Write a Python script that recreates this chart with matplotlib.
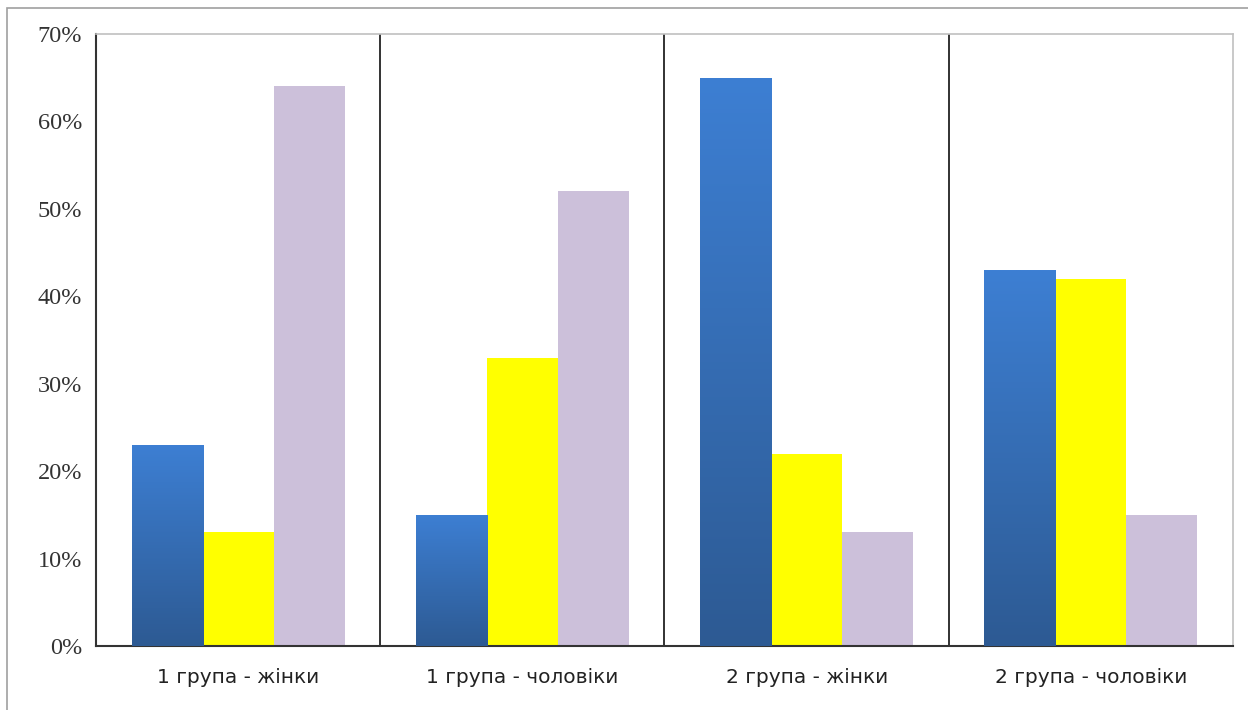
import numpy as np
import matplotlib
matplotlib.use("Agg")
import matplotlib.pyplot as plt
from matplotlib.colors import LinearSegmentedColormap
from matplotlib.patches import Rectangle

# дані (у відсотках)
categories = ["1 група - жінки", "1 група - чоловіки", "2 група - жінки", "2 група - чоловіки"]
series_blue = [23, 15, 65, 43]
series_yellow = [13, 33, 22, 42]
series_purple = [64, 52, 13, 15]
y_ticks = [0, 10, 20, 30, 40, 50, 60, 70]

fig = plt.figure(figsize=(12.48, 7.10), dpi=100)
ax = fig.add_axes([0.0769, 0.0901, 0.9111, 0.8620])

# зовнішня рамка діаграми (обрізана справа і знизу)
fig.patches.append(Rectangle((7 / 1248, -0.05), 1.1, 0.05 + (710 - 8) / 710,
                             transform=fig.transFigure, fill=False,
                             edgecolor="#a0a0a0", linewidth=1.2))

x = np.arange(len(categories))
w = 0.25

blue_bars = ax.bar(x - w, series_blue, w, color="#3a78c8", zorder=2)
ax.bar(x, series_yellow, w, color="#ffff00", zorder=2)
ax.bar(x + w, series_purple, w, color="#ccc0da", zorder=2)

# градієнт для синіх стовпців
grad = LinearSegmentedColormap.from_list("blue_grad", ["#2d5a93", "#3d7fd3"])
g = np.linspace(0, 1, 256).reshape(-1, 1)
for b in blue_bars:
    x0, y0 = b.get_x(), b.get_y()
    im = ax.imshow(g, cmap=grad, origin="lower", aspect="auto",
                   extent=[x0, x0 + b.get_width(), y0, y0 + b.get_height()], zorder=3)
    im.set_clip_path(b)

ax.set_xlim(-0.5, len(categories) - 0.5)
ax.set_ylim(0, 70)

# вертикальні розділювачі між групами
for s in x[:-1] + 0.5:
    ax.axvline(s, color="#222222", linewidth=1.3, zorder=1)

ax.set_yticks(y_ticks)
ax.set_yticklabels([f"{v}%" for v in y_ticks], fontfamily="Liberation Serif",
                   fontsize=17.5, color="#333333")
ax.set_xticks(x)
ax.set_xticklabels(categories, fontfamily="DejaVu Sans", fontsize=14.5, color="#222222")
ax.tick_params(length=0)
ax.tick_params(axis="x", pad=16)
ax.tick_params(axis="y", pad=10)

for side in ["top", "right"]:
    ax.spines[side].set_color("#c0c0c0")
    ax.spines[side].set_linewidth(1.2)
for side in ["left", "bottom"]:
    ax.spines[side].set_color("#333333")
    ax.spines[side].set_linewidth(1.5)

fig.savefig("out.png", dpi=100)
